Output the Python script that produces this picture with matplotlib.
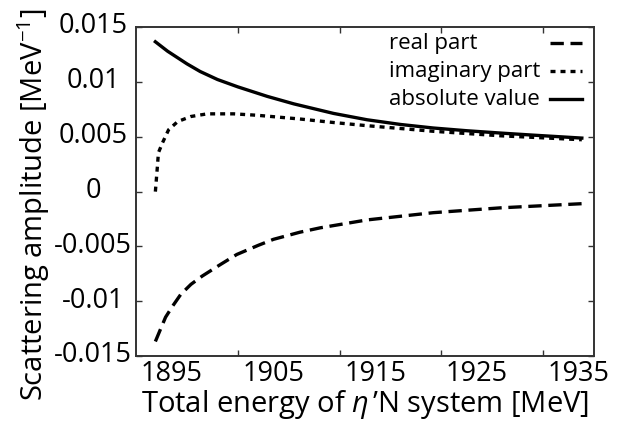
import matplotlib
matplotlib.use('Agg')
import matplotlib.pyplot as plt
import matplotlib.transforms as mtransforms

plt.rcParams['font.family'] = ['Open Sans', 'DejaVu Sans']
plt.rcParams['mathtext.fontset'] = 'custom'
plt.rcParams['mathtext.rm'] = 'Open Sans'
plt.rcParams['mathtext.it'] = 'Open Sans:italic'

# values (MeV, MeV^-1)
energy_re = [1893.4, 1893.9, 1894.4, 1895.1, 1895.9, 1896.9, 1898.0, 1899.8,
             1901.4, 1903.5, 1905.0, 1907.6, 1909.6, 1914.2, 1920.7, 1927.3, 1935.3]
real_part = [-0.01366, -0.01255, -0.01145, -0.01043, -0.00936, -0.00845, -0.00770, -0.00664,
             -0.00573, -0.00490, -0.00435, -0.00370, -0.00330, -0.00258, -0.00192, -0.00148,
             -0.00110]

energy_im = [1893.4, 1893.6, 1893.7, 1894.1, 1894.7, 1895.6, 1896.9, 1898.5,
             1901.1, 1903.4, 1907.6, 1910.9, 1914.2, 1920.7, 1927.3, 1935.3]
imag_part = [0.0, 0.0023, 0.00355, 0.00445, 0.00564, 0.00639, 0.00685, 0.00709,
             0.00709, 0.00696, 0.00662, 0.00630, 0.00601, 0.00550, 0.00509, 0.00473]

energy_abs = [1893.4, 1894.6, 1896.5, 1897.8, 1899.5, 1901.5, 1904.4, 1907.0,
              1909.6, 1910.9, 1914.2, 1917.5, 1920.7, 1924.0, 1927.3, 1930.5, 1935.3]
abs_value = [0.01366, 0.01280, 0.01165, 0.01095, 0.01022, 0.00955, 0.00868, 0.00800,
             0.00742, 0.00713, 0.00655, 0.00612, 0.00580, 0.00555, 0.00534, 0.00515, 0.00488]

xtick_labels = ['1895', '1905', '1915', '1925', '1935']
xtick_vals = [1895, 1905, 1915, 1925, 1935]
xtick_marks = [1901.5, 1911.5, 1921.5, 1931.5]
ytick_vals = [0.015, 0.01, 0.005, 0, -0.005, -0.01, -0.015]
ytick_labels = ['0.015', '0.01', '0.005', '0', '-0.005', '-0.01', '-0.015']

series = [
    (energy_re, real_part, 'real part', (0, (4, 2))),
    (energy_im, imag_part, 'imaginary part', (0, (1.5, 1.5))),
    (energy_abs, abs_value, 'absolute value', '-'),
]

fig = plt.figure(figsize=(6.24, 4.23), dpi=100)
ax = fig.add_axes([0.218, 0.158, 0.734, 0.778])

lw = 2.4
for x, y, label, ls in series:
    ax.plot(x, y, color='black', lw=lw, linestyle=ls)

ax.set_xlim(1891.5, 1936.5)
ax.set_ylim(-0.015, 0.015)

# labelled ticks without marks, marks on their own
ax.set_xticks(xtick_vals)
ax.set_xticklabels(xtick_labels)
ax.set_xticks(xtick_marks, minor=True)
ax.tick_params(axis='x', which='major', length=0, labelsize=19.5, pad=3)
ax.tick_params(axis='x', which='minor', direction='in', length=4, width=1,
               top=True, bottom=True, color='#333333')
ax.set_yticks(ytick_vals)
ax.set_yticklabels(ytick_labels)
ax.tick_params(axis='y', which='major', direction='in', length=4, width=1,
               left=True, right=True, labelsize=19.5, pad=31, color='#333333')
up = mtransforms.ScaledTranslation(0, 3 / 72, fig.dpi_scale_trans)
for lab in ax.get_yticklabels():
    lab.set_horizontalalignment('center')
    lab.set_transform(lab.get_transform() + up)

for s in ax.spines.values():
    s.set_linewidth(1.4)
    s.set_color('#333333')

ax.set_xlabel('Total energy of $\\eta\\,$\u2019N system [MeV]', fontsize=21, labelpad=0)
ax.set_ylabel('Scattering amplitude [MeV$^{-1}$]', fontsize=21)
ax.yaxis.set_label_coords(-0.183, 0.46)

# key in the top right corner, text left, line sample right
rows = [0.951, 0.866, 0.781]
for (x, y, label, ls), yr in zip(series, rows):
    ax.text(0.552, yr, label, transform=ax.transAxes, fontsize=16, va='center', ha='left')
    ax.plot([0.904, 0.974], [yr, yr], transform=ax.transAxes, color='black', lw=lw, linestyle=ls)

fig.savefig('out.png', dpi=100)
